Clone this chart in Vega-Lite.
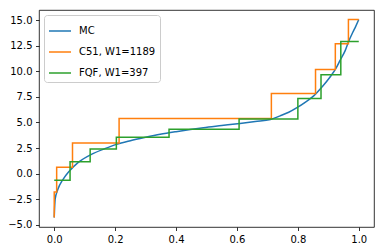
{
  "$schema": "https://vega.github.io/schema/vega-lite/v6.json",
  "width": 335,
  "height": 217,
  "autosize": {"type": "none"},
  "padding": {"left": 39, "top": 10, "right": 10, "bottom": 25},
  "background": "white",
  "config": {
    "view": {"stroke": "#000", "strokeWidth": 0.8},
    "font": "DejaVu Sans",
    "axis": {
      "grid": false,
      "domain": false,
      "tickColor": "#000",
      "tickSize": 3.5,
      "tickWidth": 0.8,
      "labelFont": "DejaVu Sans",
      "labelFontSize": 10,
      "labelColor": "#000",
      "labelPadding": 3.5,
      "title": null
    },
    "legend": {
      "orient": "top-left",
      "offset": 5,
      "padding": 4,
      "strokeColor": "#cccccc",
      "fillColor": "rgba(255,255,255,0.8)",
      "cornerRadius": 3,
      "labelFont": "DejaVu Sans",
      "labelFontSize": 10,
      "labelColor": "#000",
      "symbolType": "stroke",
      "symbolSize": 484,
      "symbolStrokeWidth": 1.5,
      "labelOffset": 7,
      "rowPadding": 4,
      "title": null
    }
  },
  "data": {
    "values": [
      {"x": 0, "y": -4.3, "s": "MC"},
      {"x": 0.003, "y": -2.5, "s": "MC"},
      {"x": 0.012, "y": -1.53, "s": "MC"},
      {"x": 0.029, "y": -0.56, "s": "MC"},
      {"x": 0.05, "y": 0.26, "s": "MC"},
      {"x": 0.078, "y": 1.07, "s": "MC"},
      {"x": 0.122, "y": 1.88, "s": "MC"},
      {"x": 0.166, "y": 2.44, "s": "MC"},
      {"x": 0.204, "y": 2.86, "s": "MC"},
      {"x": 0.25, "y": 3.22, "s": "MC"},
      {"x": 0.3, "y": 3.55, "s": "MC"},
      {"x": 0.348, "y": 3.84, "s": "MC"},
      {"x": 0.4, "y": 4.1, "s": "MC"},
      {"x": 0.49, "y": 4.49, "s": "MC"},
      {"x": 0.55, "y": 4.7, "s": "MC"},
      {"x": 0.61, "y": 4.91, "s": "MC"},
      {"x": 0.66, "y": 5.1, "s": "MC"},
      {"x": 0.71, "y": 5.3, "s": "MC"},
      {"x": 0.742, "y": 5.65, "s": "MC"},
      {"x": 0.77, "y": 6.0, "s": "MC"},
      {"x": 0.797, "y": 6.45, "s": "MC"},
      {"x": 0.825, "y": 7.0, "s": "MC"},
      {"x": 0.852, "y": 7.6, "s": "MC"},
      {"x": 0.88, "y": 8.5, "s": "MC"},
      {"x": 0.907, "y": 9.5, "s": "MC"},
      {"x": 0.925, "y": 10.3, "s": "MC"},
      {"x": 0.94, "y": 11.16, "s": "MC"},
      {"x": 0.955, "y": 12.0, "s": "MC"},
      {"x": 0.967, "y": 12.95, "s": "MC"},
      {"x": 0.98, "y": 13.8, "s": "MC"},
      {"x": 0.99, "y": 14.4, "s": "MC"},
      {"x": 1.0, "y": 15.07, "s": "MC"},
      {"x": 0, "y": -4.3, "s": "C51, W1=1189"},
      {"x": 0.008, "y": -1.8, "s": "C51, W1=1189"},
      {"x": 0.06, "y": 0.62, "s": "C51, W1=1189"},
      {"x": 0.213, "y": 2.99, "s": "C51, W1=1189"},
      {"x": 0.713, "y": 5.4, "s": "C51, W1=1189"},
      {"x": 0.858, "y": 7.84, "s": "C51, W1=1189"},
      {"x": 0.923, "y": 10.19, "s": "C51, W1=1189"},
      {"x": 0.966, "y": 12.7, "s": "C51, W1=1189"},
      {"x": 1.0, "y": 15.07, "s": "C51, W1=1189"},
      {"x": 0, "y": -0.65, "s": "FQF, W1=397"},
      {"x": 0.052, "y": -0.65, "s": "FQF, W1=397"},
      {"x": 0.118, "y": 1.17, "s": "FQF, W1=397"},
      {"x": 0.204, "y": 2.4, "s": "FQF, W1=397"},
      {"x": 0.377, "y": 3.55, "s": "FQF, W1=397"},
      {"x": 0.607, "y": 4.35, "s": "FQF, W1=397"},
      {"x": 0.8, "y": 5.33, "s": "FQF, W1=397"},
      {"x": 0.876, "y": 7.35, "s": "FQF, W1=397"},
      {"x": 0.941, "y": 9.67, "s": "FQF, W1=397"},
      {"x": 1.0, "y": 12.92, "s": "FQF, W1=397"}
    ]
  },
  "encoding": {
    "x": {
      "field": "x", "type": "quantitative",
      "scale": {"domain": [-0.05, 1.05], "nice": false, "zero": false},
      "axis": {"values": [0, 0.2, 0.4, 0.6, 0.8, 1.0], "format": ".1f"}
    },
    "y": {
      "field": "y", "type": "quantitative",
      "scale": {"domain": [-5.22, 16.0], "nice": false, "zero": false},
      "axis": {"values": [-5, -2.5, 0, 2.5, 5, 7.5, 10, 12.5, 15], "format": ".1f"}
    },
    "color": {
      "field": "s", "type": "nominal",
      "scale": {"domain": ["MC", "C51, W1=1189", "FQF, W1=397"], "range": ["#1f77b4", "#ff7f0e", "#2ca02c"]}
    },
    "order": {"field": "x", "type": "quantitative"}
  },
  "layer": [
    {
      "transform": [{"filter": "datum.s === 'MC'"}],
      "mark": {"type": "line", "strokeWidth": 1.5, "interpolate": "monotone", "clip": true}
    },
    {
      "transform": [{"filter": "datum.s === 'C51, W1=1189'"}],
      "mark": {"type": "line", "strokeWidth": 1.5, "interpolate": "step-before", "clip": true}
    },
    {
      "transform": [{"filter": "datum.s === 'FQF, W1=397'"}],
      "mark": {"type": "line", "strokeWidth": 1.5, "interpolate": "step-before", "clip": true}
    }
  ]
}
